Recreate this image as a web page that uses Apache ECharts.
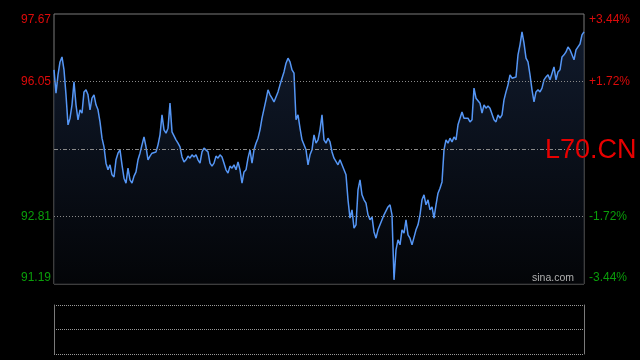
<!DOCTYPE html>
<html><head><meta charset="utf-8">
<script src="https://cdn.jsdelivr.net/npm/echarts@6/dist/echarts.min.js"></script>
<style>html,body{margin:0;padding:0;background:#000;}#c{width:640px;height:360px;}</style>
</head><body><div id="c"></div>
<script>
const symbolName = 'L70.CN';
const watermark = 'sina.com';
const prevClose = 94.43;
const priceMin = 91.19;
const priceMax = 97.67;
const priceTicks = [91.19, 92.81, 96.05, 97.67];
const pctLabels = {'91.19': '-3.44%', '92.81': '-1.72%', '96.05': '+1.72%', '97.67': '+3.44%'};
const prices = [
96.33,95.77,96.21,96.52,96.64,96.33,95.73,95.01,95.17,95.49,
96.04,95.49,95.13,95.37,95.29,95.80,95.85,95.73,95.37,95.65,
95.73,95.49,95.37,95.08,94.69,94.48,94.09,93.93,94.05,93.81,
93.76,94.17,94.33,94.41,94.05,93.73,93.61,93.97,93.69,93.61,
93.78,93.88,94.17,94.33,94.53,94.72,94.48,94.17,94.26,94.33,
94.29,94.36,94.53,94.77,95.25,94.89,94.81,94.93,95.53,94.84,
94.84,94.65,94.57,94.48,94.24,94.12,94.17,94.26,94.21,94.29,
94.24,94.29,94.17,94.09,94.36,94.45,94.48,94.36,94.09,94.02,
94.09,94.26,94.21,94.29,94.24,94.09,93.93,93.85,94.02,93.97,
94.05,93.93,94.12,93.93,93.61,93.88,93.93,94.21,94.41,94.09,
94.41,94.57,94.69,94.89,95.17,95.20,95.61,95.85,95.73,95.65,
95.56,95.58,95.80,95.97,96.13,96.28,96.49,96.61,96.52,96.33,
96.25,95.13,95.25,94.93,94.65,94.53,94.41,94.05,94.29,94.41,
94.77,94.57,94.65,94.89,95.25,94.65,94.57,94.69,94.60,94.36,
94.21,94.17,94.05,94.17,94.17,93.93,93.81,93.21,92.77,92.97,
92.53,92.61,93.45,93.69,93.33,93.21,93.13,92.85,92.73,92.80,
92.44,92.29,92.49,92.61,92.61,92.85,92.89,93.04,93.09,92.85,
91.29,92.01,92.25,92.13,92.49,92.41,92.73,92.37,92.29,92.13,
92.17,92.49,92.61,92.85,93.21,93.33,93.09,93.21,92.97,93.04,
92.77,93.09,93.37,93.49,93.64,94.41,94.65,94.57,94.69,94.60,
94.72,94.65,95.01,95.01,95.32,95.17,95.13,95.17,95.08,95.13,
95.89,95.65,95.61,95.53,95.29,95.49,95.41,95.46,95.41,95.37,
95.13,95.08,95.25,95.17,95.25,95.61,95.80,95.97,96.21,96.13,
96.09,96.16,96.69,96.93,97.24,96.97,96.61,96.52,96.21,95.85,
95.56,95.80,95.85,95.80,95.89,96.09,96.16,96.21,96.09,96.13,
96.40,96.09,96.28,96.33,96.64,96.69,96.76,96.88,96.81,96.69,
96.57,96.81,96.88,96.95,97.17,97.24
];
const volumes = [];
const cats = prices.map((_, i) => i);

const RED = '#dd0a0a', GREEN = '#0a9e0a', BORDER = '#7a7a7a', DOT = '#8a8a8a';
const chart = echarts.init(document.getElementById('c'), null, {renderer: 'canvas'});
chart.setOption({
  backgroundColor: '#000',
  animation: false,
  grid: [
    {left: 54, top: 14, width: 530, height: 270, show: true, borderColor: BORDER, borderWidth: 1, backgroundColor: 'transparent'},
    {left: 54, top: 305, width: 530, height: 49, show: false}
  ],
  xAxis: [
    {type: 'category', gridIndex: 0, data: cats, boundaryGap: false, axisLine: {show: false}, axisTick: {show: false}, axisLabel: {show: false}, splitLine: {show: false}},
    {type: 'category', gridIndex: 1, data: cats, boundaryGap: false, axisLine: {show: false}, axisTick: {show: false}, axisLabel: {show: false}, splitLine: {show: false}}
  ],
  yAxis: [
    {type: 'value', gridIndex: 0, position: 'left', min: priceMin, max: priceMax,
     axisLine: {show: false}, axisTick: {show: false}, splitLine: {show: false},
     axisLabel: {customValues: priceTicks, margin: 3, fontSize: 12, fontFamily: 'Liberation Sans, Arial, sans-serif',
       verticalAlignMinLabel: 'bottom', verticalAlignMaxLabel: 'top',
       formatter: v => v.toFixed(2),
       color: v => (v > prevClose ? RED : GREEN)}},
    {type: 'value', gridIndex: 0, position: 'right', min: priceMin, max: priceMax,
     axisLine: {show: false}, axisTick: {show: false}, splitLine: {show: false},
     axisLabel: {customValues: priceTicks, margin: 5, fontSize: 12, fontFamily: 'Liberation Sans, Arial, sans-serif',
       verticalAlignMinLabel: 'bottom', verticalAlignMaxLabel: 'top',
       formatter: v => pctLabels[v.toFixed(2)] || '',
       color: v => (v > prevClose ? RED : GREEN)}},
    {type: 'value', gridIndex: 1, position: 'left', min: 0, max: 2, interval: 1,
     axisLine: {show: true, lineStyle: {color: BORDER}}, axisTick: {show: false}, axisLabel: {show: false},
     splitLine: {show: true, lineStyle: {color: '#9a9a9a', type: [1, 1]}}},
    {type: 'value', gridIndex: 1, position: 'right', min: 0, max: 2, interval: 1,
     axisLine: {show: true, lineStyle: {color: BORDER}}, axisTick: {show: false}, axisLabel: {show: false},
     splitLine: {show: false}}
  ],
  series: [
    {type: 'line', xAxisIndex: 0, yAxisIndex: 0, data: prices, symbol: 'none', smooth: false,
     lineStyle: {color: '#5596f5', width: 1.5},
     areaStyle: {origin: 'start', color: new echarts.graphic.LinearGradient(0, 0, 0, 1, [
       {offset: 0, color: '#17253e'}, {offset: 1, color: '#05070b'}])},
     markLine: {silent: true, symbol: ['none', 'none'], label: {show: false},
       data: [
         {yAxis: 96.05, lineStyle: {color: DOT, type: [1, 2], width: 1}},
         {yAxis: 92.81, lineStyle: {color: DOT, type: [1, 2], width: 1}},
         {yAxis: prevClose, lineStyle: {color: DOT, type: [4, 2, 1, 2], width: 1}}
       ]}},
    {type: 'bar', xAxisIndex: 1, yAxisIndex: 2, data: volumes}
  ],
  graphic: [
    {type: 'text', z: 100, left: 532, top: 273, style: {text: watermark, fill: '#b0b0b0', font: '10.5px "Liberation Sans", Arial, sans-serif'}},
    {type: 'text', z: 100, left: 545, top: 137, style: {text: symbolName, fill: '#e80000', font: '27px "Liberation Sans", Arial, sans-serif'}}
  ]
});
</script>
</body></html>
